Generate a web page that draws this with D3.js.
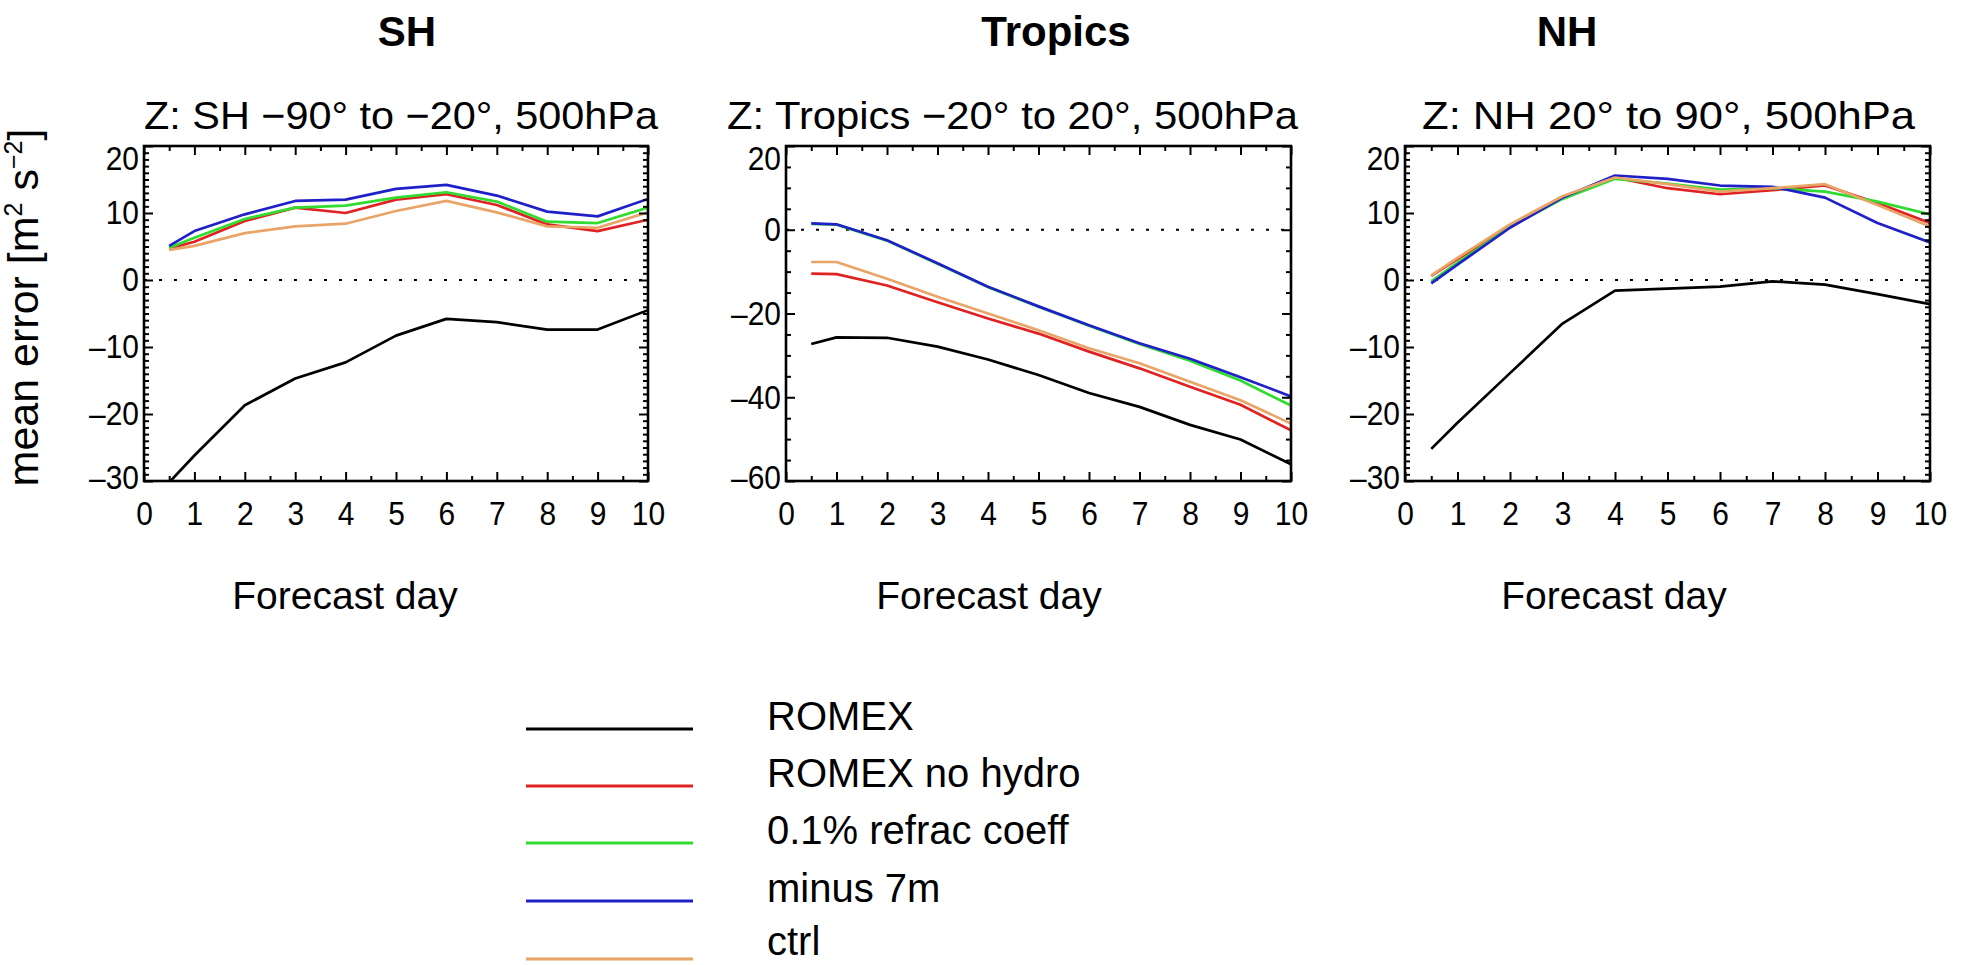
<!DOCTYPE html>
<html>
<head>
<meta charset="utf-8">
<script src="https://cdn.jsdelivr.net/npm/d3@7"></script>
<style>
  html, body { margin: 0; padding: 0; background: #fff; }
  svg { display: block; }
  text { font-family: "Liberation Sans", Arial, Helvetica, sans-serif; fill: #000; }
</style>
</head>
<body>
<svg id="chart" width="1965" height="965"></svg>
<script>
// ---------------- data ----------------
const forecastDays = [0.5, 1, 2, 3, 4, 5, 6, 7, 8, 9, 10];
const seriesNames = ["ROMEX", "ROMEX no hydro", "0.1% refrac coeff", "minus 7m", "ctrl"];
const seriesColors = ["#000000", "#e02222", "#2fdc2f", "#2020c8", "#e9a468"];

const panelTitles = ["SH", "Tropics", "NH"];
const panelSubtitles = ["Z: SH \u221290\u00b0 to \u221220\u00b0, 500hPa",
                        "Z: Tropics \u221220\u00b0 to 20\u00b0, 500hPa",
                        "Z: NH 20\u00b0 to 90\u00b0, 500hPa"];
const xTickValues = [0, 1, 2, 3, 4, 5, 6, 7, 8, 9, 10];
const yTicksSH = [-30, -20, -10, 0, 10, 20];
const yTicksTropics = [-60, -40, -20, 0, 20];
const yTicksNH = [-30, -20, -10, 0, 10, 20];

// SH
const shRomex    = [-30.2, -26.2, -18.7, -14.7, -12.3, -8.3, -5.8, -6.3, -7.4, -7.4, -4.5];
const shNoHydro  = [4.7, 5.7, 8.8, 10.8, 10.0, 12.0, 12.8, 11.2, 8.3, 7.3, 9.0];
const shRefrac   = [4.8, 6.3, 9.1, 10.8, 11.1, 12.3, 13.1, 11.7, 8.7, 8.5, 10.8];
const shMinus7m  = [5.1, 7.3, 9.8, 11.8, 12.0, 13.6, 14.2, 12.6, 10.2, 9.5, 12.1];
const shCtrl     = [4.5, 5.1, 7.0, 8.0, 8.4, 10.3, 11.8, 10.1, 8.0, 7.8, 10.1];
// Tropics
const trRomex    = [-27.3, -25.7, -25.8, -27.9, -31.0, -34.7, -39.0, -42.3, -46.6, -50.1, -56.0];
const trNoHydro  = [-10.5, -10.6, -13.3, -17.3, -21.2, -24.8, -29.1, -33.1, -37.5, -41.8, -47.9];
const trRefrac   = [1.4, 1.2, -2.6, -8.1, -13.7, -18.4, -22.9, -27.3, -31.3, -36.0, -42.0];
const trMinus7m  = [1.5, 1.3, -2.5, -8.0, -13.6, -18.3, -22.8, -27.1, -30.8, -35.2, -39.8];
const trCtrl     = [-7.7, -7.7, -11.7, -16.0, -20.0, -24.0, -28.3, -31.9, -36.3, -40.7, -46.3];
// NH
const nhRomex    = [-25.2, -21.3, -13.9, -6.5, -1.6, -1.3, -1.0, -0.2, -0.7, -2.1, -3.6];
const nhNoHydro  = [0.6, 3.1, 8.0, 12.3, 15.3, 13.7, 12.8, 13.4, 14.1, 11.5, 8.5];
const nhRefrac   = [-0.2, 2.6, 7.9, 12.1, 15.1, 14.4, 13.5, 13.7, 13.2, 11.7, 9.8];
const nhMinus7m  = [-0.5, 2.3, 7.8, 12.3, 15.6, 15.1, 14.1, 13.9, 12.3, 8.5, 5.6];
const nhCtrl     = [0.7, 3.3, 8.3, 12.5, 15.3, 14.3, 13.2, 13.7, 14.3, 11.2, 8.0];

// ---------------- layout ----------------
const panels = [
  { title: panelTitles[0], sub: panelSubtitles[0], x0: 144, x1: 648, yDomain: [-30, 20], yTicks: yTicksSH, yMinorStep: 1,
    titleX: 407, subX: [144, 658], xTitleX: 345,
    series: [shRomex, shNoHydro, shRefrac, shMinus7m, shCtrl], yTitle: true },
  { title: panelTitles[1], sub: panelSubtitles[1], x0: 786, x1: 1291, yDomain: [-60, 20], yTicks: yTicksTropics, yMinorStep: 5,
    titleX: 1056, subX: [727, 1298], xTitleX: 989,
    series: [trRomex, trNoHydro, trRefrac, trMinus7m, trCtrl], yTitle: false },
  { title: panelTitles[2], sub: panelSubtitles[2], x0: 1405, x1: 1930, yDomain: [-30, 20], yTicks: yTicksNH, yMinorStep: 1,
    titleX: 1567, subX: [1422, 1915], xTitleX: 1614,
    series: [nhRomex, nhNoHydro, nhRefrac, nhMinus7m, nhCtrl], yTitle: false }
];
const yTop = 146, yBot = 481;
const majorLen = 9, minorLen = 5;
const narrow = 0.88; // tick label condensing

const svg = d3.select("#chart");

function condense(sel, f) {
  sel.each(function () {
    const w = this.getComputedTextLength();
    if (w > 0) d3.select(this).attr("textLength", w * f).attr("lengthAdjust", "spacingAndGlyphs");
  });
}

panels.forEach((p, pi) => {
  const x = d3.scaleLinear().domain([0, 10]).range([p.x0, p.x1]);
  const y = d3.scaleLinear().domain(p.yDomain).range([yBot, yTop]);
  const g = svg.append("g");

  // big bold title
  g.append("text").attr("x", p.titleX).attr("y", 46).attr("text-anchor", "middle")
    .attr("font-size", 42).attr("font-weight", "bold").text(p.title);
  // subtitle
  g.append("text").attr("x", p.subX[0]).attr("y", 129).attr("text-anchor", "start")
    .attr("font-size", 39).attr("textLength", p.subX[1] - p.subX[0])
    .attr("lengthAdjust", "spacingAndGlyphs").text(p.sub);

  // clip
  const clipId = "clip" + pi;
  g.append("clipPath").attr("id", clipId).append("rect")
    .attr("x", p.x0).attr("y", yTop).attr("width", p.x1 - p.x0).attr("height", yBot - yTop);

  // zero dotted line
  g.append("line").attr("x1", x(0)).attr("x2", x(10)).attr("y1", y(0)).attr("y2", y(0))
    .attr("stroke", "#000").attr("stroke-width", 2).attr("stroke-dasharray", "3,12");

  // data lines
  const line = d3.line().x((d, i) => x(forecastDays[i])).y(d => y(d));
  p.series.forEach((vals, si) => {
    g.append("path").datum(vals).attr("d", line).attr("fill", "none")
      .attr("stroke", seriesColors[si]).attr("stroke-width", 2.7)
      .attr("stroke-linejoin", "round").attr("clip-path", `url(#${clipId})`);
  });

  const xMinor = d3.range(0.5, 10, 1);
  const yMinor = d3.range(p.yDomain[0], p.yDomain[1] + 0.001, p.yMinorStep).filter(v => !p.yTicks.includes(v));

  // bottom axis
  const bottom = g.append("g").attr("transform", `translate(0,${yBot})`)
    .call(d3.axisBottom(x).tickValues(xTickValues).tickSize(-majorLen).tickPadding(20).tickFormat(d3.format("d")));
  bottom.selectAll("text").attr("font-size", 34).attr("font-family", "Liberation Sans, Arial, sans-serif").attr("fill", "#000");
  condense(bottom.selectAll("text"), narrow);
  bottom.call(s => s.select(".domain").remove());
  g.append("g").attr("transform", `translate(0,${yBot})`)
    .call(d3.axisBottom(x).tickValues(xMinor).tickSize(-minorLen).tickFormat(""))
    .call(s => s.select(".domain").remove());
  // top axis
  g.append("g").attr("transform", `translate(0,${yTop})`)
    .call(d3.axisTop(x).tickValues(xTickValues).tickSize(-majorLen).tickFormat(""))
    .call(s => s.select(".domain").remove());
  g.append("g").attr("transform", `translate(0,${yTop})`)
    .call(d3.axisTop(x).tickValues(xMinor).tickSize(-minorLen).tickFormat(""))
    .call(s => s.select(".domain").remove());
  // left axis
  const left = g.append("g").attr("transform", `translate(${p.x0},0)`)
    .call(d3.axisLeft(y).tickValues(p.yTicks).tickSize(-majorLen).tickPadding(5)
      .tickFormat(d => d < 0 ? "\u2013" + Math.abs(d) : String(d)));
  left.selectAll("text").attr("font-size", 34).attr("font-family", "Liberation Sans, Arial, sans-serif").attr("fill", "#000");
  condense(left.selectAll("text"), narrow);
  left.selectAll(".tick").filter(d => d === p.yDomain[1]).select("text").attr("y", 13);
  left.selectAll(".tick").filter(d => d === p.yDomain[0]).select("text").attr("y", -3);
  left.call(s => s.select(".domain").remove());
  g.append("g").attr("transform", `translate(${p.x0},0)`)
    .call(d3.axisLeft(y).tickValues(yMinor).tickSize(-minorLen).tickFormat(""))
    .call(s => s.select(".domain").remove());
  // right axis
  g.append("g").attr("transform", `translate(${p.x1},0)`)
    .call(d3.axisRight(y).tickValues(p.yTicks).tickSize(-majorLen).tickFormat(""))
    .call(s => s.select(".domain").remove());
  g.append("g").attr("transform", `translate(${p.x1},0)`)
    .call(d3.axisRight(y).tickValues(yMinor).tickSize(-minorLen).tickFormat(""))
    .call(s => s.select(".domain").remove());
  g.selectAll(".tick line").attr("stroke", "#000").attr("stroke-width", 2);

  // box
  g.append("rect").attr("x", p.x0).attr("y", yTop).attr("width", p.x1 - p.x0).attr("height", yBot - yTop)
    .attr("fill", "none").attr("stroke", "#000").attr("stroke-width", 2.6);

  // x title
  g.append("text").attr("x", p.xTitleX).attr("y", 609).attr("text-anchor", "middle")
    .attr("font-size", 39).text("Forecast day");

  if (p.yTitle) {
    const t = g.append("text").attr("transform", `translate(38,${(yTop + yBot) / 2 - 6}) rotate(-90)`)
      .attr("text-anchor", "middle").attr("font-size", 43);
    t.append("tspan").text("mean error [m");
    t.append("tspan").attr("font-size", 25).attr("dy", -16).text("2");
    t.append("tspan").attr("dy", 16).text(" s");
    t.append("tspan").attr("font-size", 25).attr("dy", -16).text("\u22122");
    t.append("tspan").attr("dy", 16).text("]");
  }
});

// legend
const legendY = [729, 786, 843, 901, 959];
const legend = svg.append("g");
seriesNames.forEach((name, i) => {
  legend.append("line").attr("x1", 526).attr("x2", 693).attr("y1", legendY[i]).attr("y2", legendY[i])
    .attr("stroke", seriesColors[i]).attr("stroke-width", 3);
  legend.append("text").attr("x", 767).attr("y", Math.min(legendY[i] + 1, 955)).attr("font-size", 40).text(name);
});
</script>
</body>
</html>
